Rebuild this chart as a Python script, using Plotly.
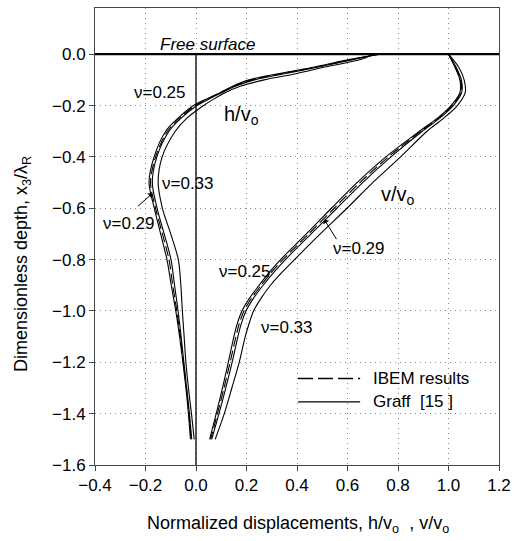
import plotly.graph_objects as go

# Depth arrays (dimensionless, x3/lambda_R)
depth_h = [0, -0.02, -0.05, -0.075, -0.1, -0.125, -0.15, -0.175, -0.2, -0.25, -0.3, -0.4,
           -0.5, -0.6, -0.7, -0.8, -0.9, -1.0, -1.1, -1.2, -1.3, -1.4, -1.5]
depth_v = [0, -0.05, -0.1, -0.15, -0.2, -0.25, -0.3, -0.4, -0.5, -0.6, -0.7, -0.8, -0.85,
           -0.9, -0.95, -1.0, -1.05, -1.1, -1.2, -1.3, -1.4, -1.5]

# Horizontal displacement h/vo
h_graff_025 = [0.73, 0.61, 0.47, 0.33, 0.21, 0.145, 0.095, 0.04, -0.01, -0.072, -0.12, -0.166,
               -0.186, -0.165, -0.14, -0.115, -0.098, -0.08, -0.065, -0.052, -0.040, -0.030, -0.022]
h_graff_029 = [0.72, 0.626, 0.484, 0.355, 0.231, 0.155, 0.102, 0.05, 0.004, -0.06, -0.107, -0.155,
               -0.173, -0.154, -0.126, -0.099, -0.085, -0.071, -0.059, -0.048, -0.037, -0.026, -0.017]
h_graff_033 = [0.70, 0.655, 0.51, 0.40, 0.27, 0.175, 0.115, 0.07, 0.03, -0.037, -0.082, -0.134,
               -0.15, -0.133, -0.10, -0.07, -0.06, -0.054, -0.047, -0.040, -0.030, -0.018, -0.007]
h_ibem = [0.725, 0.617, 0.477, 0.342, 0.22, 0.15, 0.098, 0.045, -0.003, -0.066, -0.113, -0.160,
          -0.180, -0.160, -0.133, -0.107, -0.092, -0.076, -0.062, -0.050, -0.038, -0.028, -0.020]

# Vertical displacement v/vo
v_graff_025 = [1.0, 1.025, 1.045, 1.045, 1.01, 0.955, 0.885, 0.752, 0.638, 0.536, 0.437, 0.335,
               0.29, 0.25, 0.212, 0.182, 0.163, 0.150, 0.128, 0.105, 0.080, 0.054]
v_graff_029 = [1.0, 1.030, 1.051, 1.052, 1.019, 0.964, 0.896, 0.772, 0.660, 0.558, 0.456, 0.354,
               0.308, 0.266, 0.228, 0.198, 0.179, 0.166, 0.143, 0.118, 0.091, 0.062]
v_graff_033 = [1.0, 1.04, 1.062, 1.066, 1.035, 0.98, 0.915, 0.81, 0.70, 0.598, 0.492, 0.39,
               0.34, 0.295, 0.258, 0.228, 0.21, 0.195, 0.171, 0.142, 0.112, 0.076]
v_ibem = [1.0, 1.028, 1.048, 1.049, 1.014, 0.959, 0.890, 0.762, 0.649, 0.547, 0.446, 0.344,
          0.298, 0.258, 0.220, 0.190, 0.171, 0.158, 0.135, 0.111, 0.085, 0.058]

x_ticks = [-0.4, -0.2, 0.0, 0.2, 0.4, 0.6, 0.8, 1.0, 1.2]
y_ticks = [-1.6, -1.4, -1.2, -1.0, -0.8, -0.6, -0.4, -0.2, 0.0]

FONT = "Liberation Sans, Arial, sans-serif"

fig = go.Figure()


def add_curve(x, y, dash=None):
    line = dict(color="black", width=1.1, shape="spline", smoothing=0.9)
    if dash:
        line["dash"] = dash
    fig.add_trace(go.Scatter(x=x, y=y, mode="lines", showlegend=False, line=line,
                             hoverinfo="skip"))


for s in (h_graff_025, h_graff_029, h_graff_033):
    add_curve(s, depth_h)
for s in (v_graff_025, v_graff_029, v_graff_033):
    add_curve(s, depth_v)
add_curve(h_ibem, depth_h, "10px,4px")
add_curve(v_ibem, depth_v, "10px,4px")

shapes = [
    # free surface line
    dict(type="line", xref="paper", yref="y", x0=0, x1=1, y0=0, y1=0,
         line=dict(color="black", width=2.2)),
    # vertical zero line below the surface
    dict(type="line", xref="x", yref="y", x0=0, x1=0, y0=-1.6, y1=0,
         line=dict(color="black", width=1.3)),
    # legend samples
    dict(type="line", xref="x", yref="y", x0=0.404, x1=0.650, y0=-1.263, y1=-1.263,
         line=dict(color="black", width=1.3, dash="15px,5px")),
    dict(type="line", xref="x", yref="y", x0=0.404, x1=0.650, y0=-1.354, y1=-1.354,
         line=dict(color="black", width=1.3)),
]

ann_font = dict(family=FONT, size=17, color="black")
big_font = dict(family=FONT, size=20, color="black")
annotations = [
    dict(x=0.044, y=0.039, text="<i>Free surface</i>", showarrow=False, font=ann_font,
         xanchor="center", yanchor="middle"),
    dict(x=-0.030, y=-0.149, text="ν=0.25", showarrow=False, font=ann_font,
         xanchor="right", yanchor="middle"),
    dict(x=0.104, y=-0.24, text="h/v<sub>o</sub>", showarrow=False, font=big_font,
         xanchor="left", yanchor="middle"),
    dict(x=-0.142, y=-0.504, text="ν=0.33", showarrow=False, font=ann_font,
         xanchor="left", yanchor="middle"),
    dict(x=-0.376, y=-0.658, text="ν=0.29", showarrow=False, font=ann_font,
         xanchor="left", yanchor="middle"),
    dict(x=-0.173, y=-0.543, ax=-0.236, ay=-0.597, axref="x", ayref="y", text="",
         showarrow=True, arrowhead=1, arrowsize=1.2, arrowwidth=1, arrowcolor="black"),
    dict(x=0.726, y=-0.55, text="v/v<sub>o</sub>", showarrow=False, font=big_font,
         xanchor="left", yanchor="middle"),
    dict(x=0.536, y=-0.758, text="ν=0.29", showarrow=False, font=ann_font,
         xanchor="left", yanchor="middle"),
    dict(x=0.508, y=-0.644, ax=0.560, ay=-0.726, axref="x", ayref="y", text="",
         showarrow=True, arrowhead=1, arrowsize=1.2, arrowwidth=1, arrowcolor="black"),
    dict(x=0.082, y=-0.845, text="ν=0.25", showarrow=False, font=ann_font,
         xanchor="left", yanchor="middle"),
    dict(x=0.250, y=-1.063, text="ν=0.33", showarrow=False, font=ann_font,
         xanchor="left", yanchor="middle"),
    # legend texts
    dict(x=0.693, y=-1.263, text="IBEM results", showarrow=False, font=ann_font,
         xanchor="left", yanchor="middle"),
    dict(x=0.693, y=-1.354, text="Graff\u00a0 [15 ]", showarrow=False, font=ann_font,
         xanchor="left", yanchor="middle"),
    # axis titles
    dict(xref="paper", yref="paper", x=0.502, y=-0.131,
         text="Normalized displacements, h/v<sub>o</sub>\u00a0 , v/v<sub>o</sub>",
         showarrow=False, font=dict(family=FONT, size=18, color="black"),
         xanchor="center", yanchor="middle"),
    dict(xref="paper", yref="paper", x=-0.178, y=0.44, textangle=-90,
         text="Dimensionless depth, x<sub>3</sub>/λ<sub>R</sub>",
         showarrow=False, font=dict(family=FONT, size=18, color="black"),
         xanchor="center", yanchor="middle"),
]

axis_common = dict(
    showline=True, linecolor="#444", linewidth=1, mirror=True,
    ticks="outside", ticklen=5, tickcolor="#444", tickwidth=1,
    showgrid=True, gridcolor="#8a8a8a", gridwidth=1, griddash="1px,4px",
    zeroline=False, tickfont=dict(family=FONT, size=17, color="black"),
)

fig.update_layout(
    width=518, height=541,
    margin=dict(l=95, r=12, t=7, b=76),
    paper_bgcolor="white", plot_bgcolor="white",
    showlegend=False,
    shapes=shapes, annotations=annotations,
    xaxis=dict(range=[-0.4, 1.2], tickvals=x_ticks, tickformat=".1f", **axis_common),
    yaxis=dict(range=[-1.6, 0.18], tickvals=y_ticks, tickformat=".1f", **axis_common),
)

fig.write_html("out.html")
